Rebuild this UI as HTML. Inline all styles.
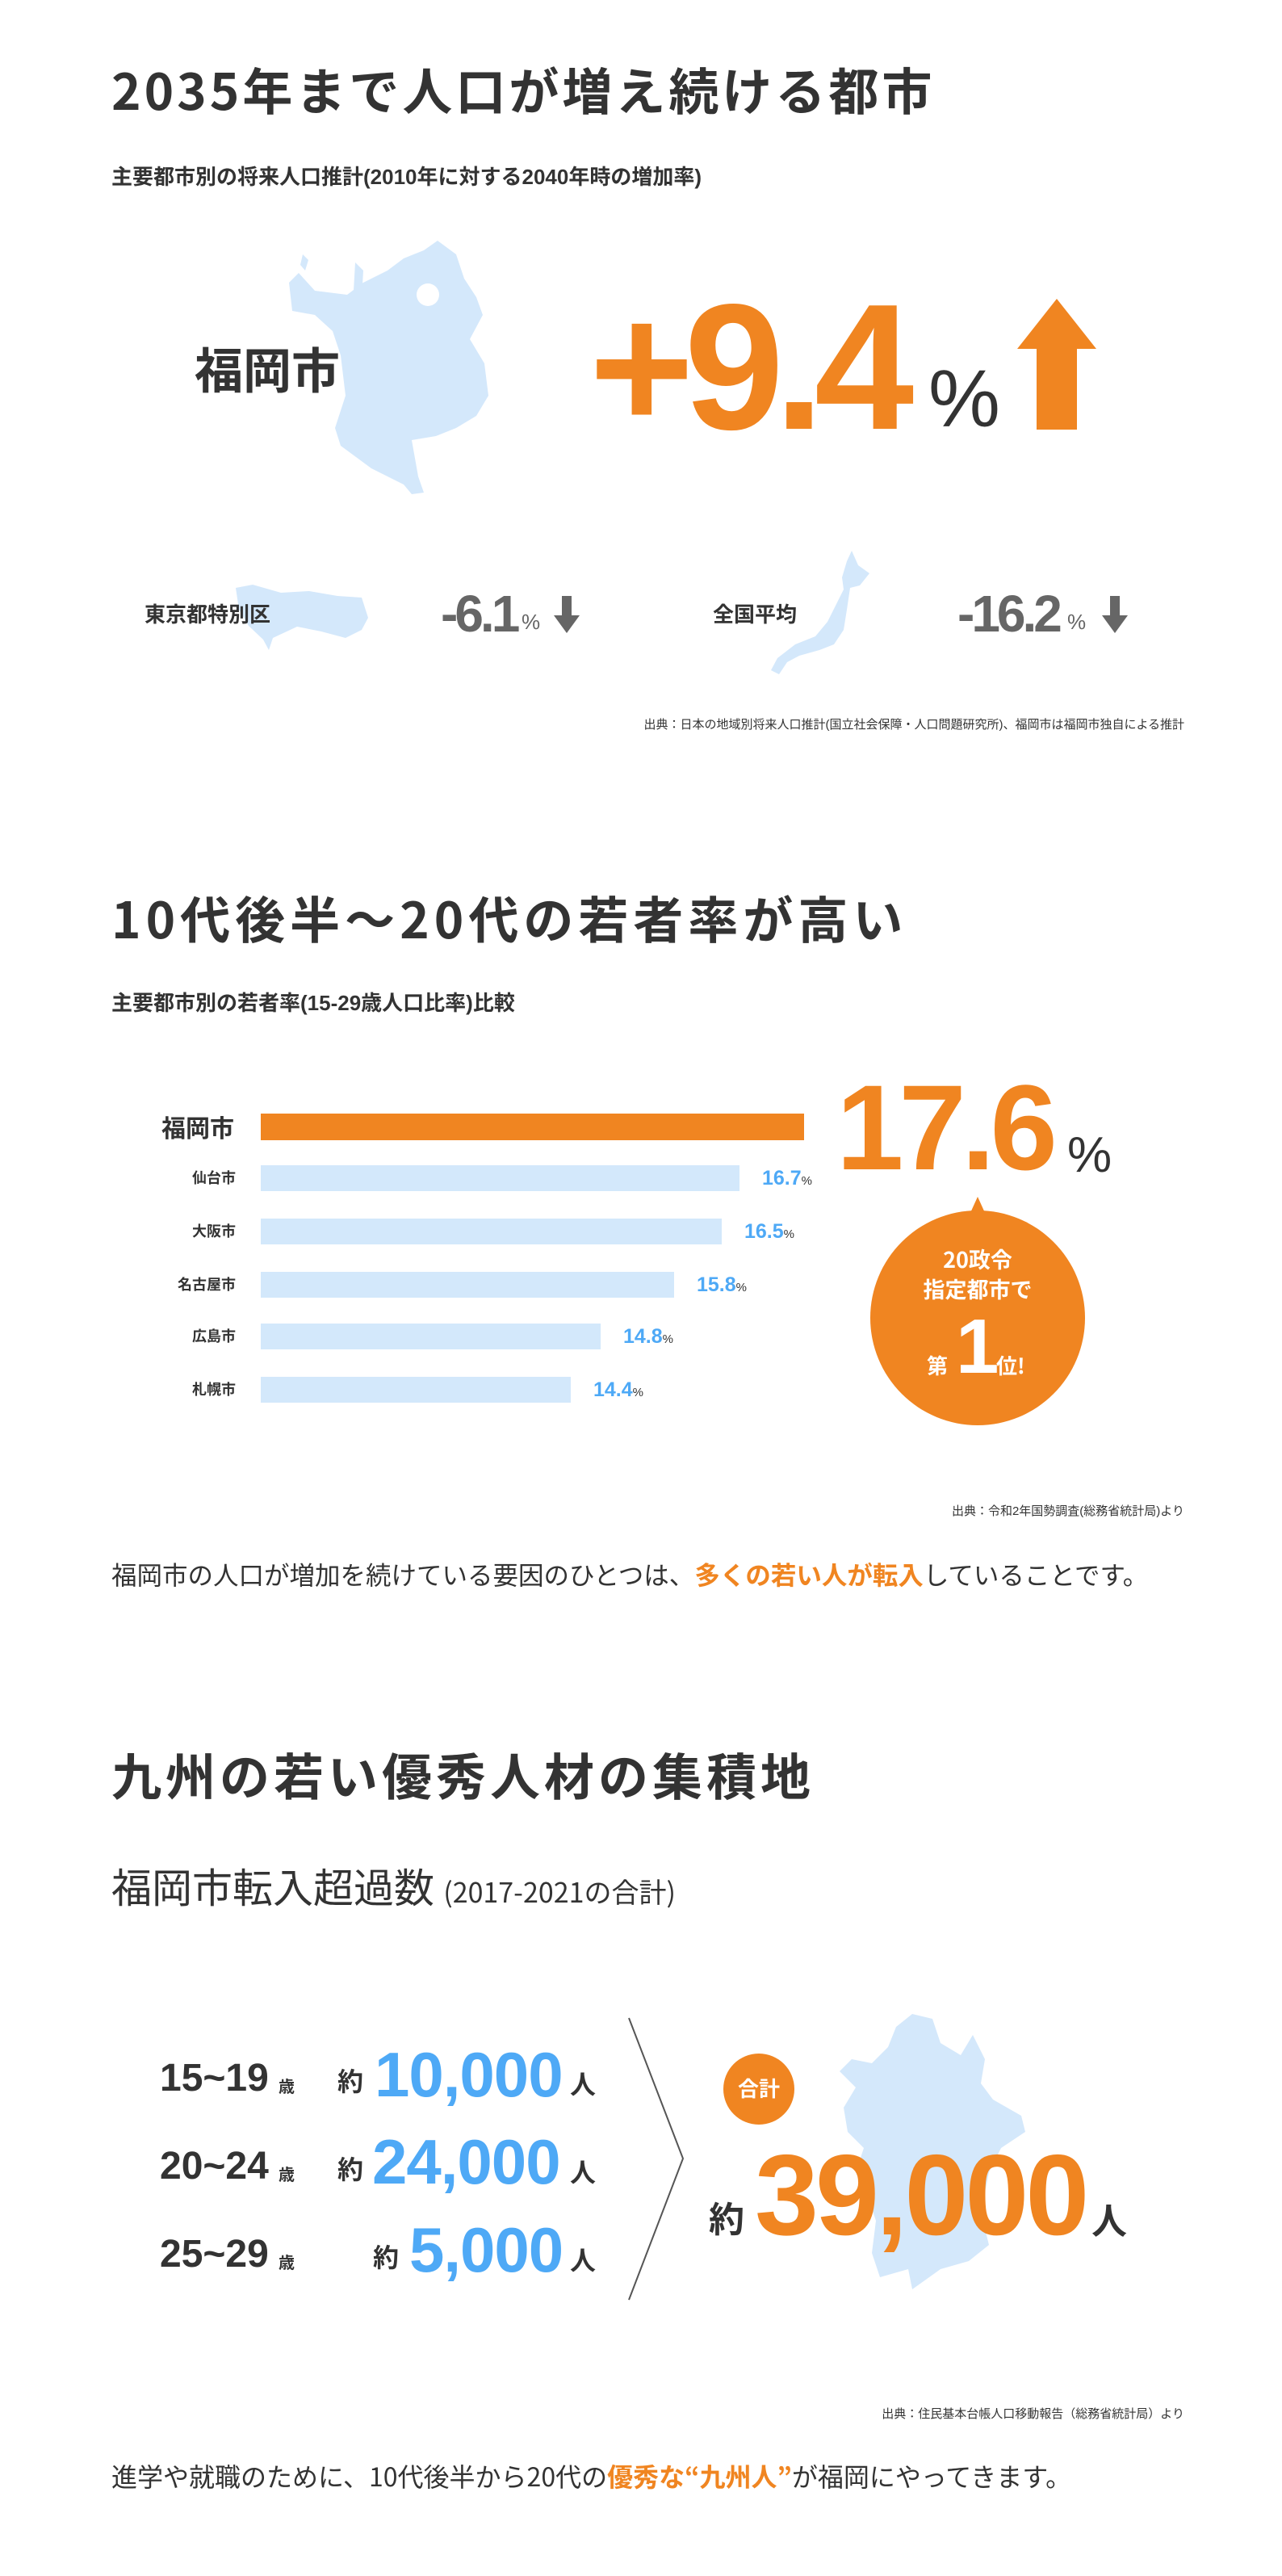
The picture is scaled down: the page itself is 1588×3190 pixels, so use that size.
<!DOCTYPE html>
<html><head><meta charset="utf-8"><style>
*{margin:0;padding:0}
body{width:1588px;height:3190px;background:#fff;position:relative;overflow:hidden;font-family:"Liberation Sans","Noto Sans CJK JP",sans-serif;color:#333}
.t{position:absolute;white-space:nowrap;line-height:1}
.h{font-family:"Noto Sans CJK JP",sans-serif;font-weight:bold;font-size:62px;color:#333}
.b{font-weight:bold}
.o{color:#f08521}
.bl{color:#4ea9f6}
.bar{position:absolute;height:32px;background:#d3e8fb;left:323px}
.src{position:absolute;white-space:nowrap;line-height:1;right:121px;font-size:15px}
</style></head><body>

<div class="t h" style="left:138px;top:78px;letter-spacing:4px">2035年まで人口が増え続ける都市</div>
<div class="t b" style="left:138px;top:206px;font-size:26px">主要都市別の将来人口推計(2010年に対する2040年時の増加率)</div>

<svg style="position:absolute;left:350px;top:290px" width="300" height="330" viewBox="0 0 300 330">
<path fill="#d4e8fb" d="M192 8 L215 25 L225 55 L240 78 L248 100 L232 130 L250 160 L255 200 L240 225 L215 240 L190 250 L160 255 L168 300 L175 320 L160 322 L150 310 L110 290 L72 262 L65 240 L78 200 L72 150 L62 120 L40 100 L12 95 L8 60 L20 48 L40 70 L80 75 L100 60 L130 45 L150 30 L175 20 Z"/>
<path fill="#d4e8fb" d="M90 35 L100 45 L98 80 L88 70 Z M25 25 L32 32 L28 45 L22 38 Z"/>
<circle cx="180" cy="75" r="14" fill="#fff"/>
</svg>
<div class="t b" style="left:241px;top:426px;font-size:60px;font-family:'Noto Sans CJK JP',sans-serif">福岡市</div>

<div class="t b o" style="left:730px;top:344px;font-size:222px;letter-spacing:-12px">+9.4</div>
<div class="t" style="left:1150px;top:444px;font-size:100px;color:#333">%</div>
<svg style="position:absolute;left:1254px;top:368px" width="110" height="166"><polygon fill="#f08521" points="6,64 55,2 104,64 80,64 80,164 30,164 30,64"/></svg>

<svg style="position:absolute;left:288px;top:720px" width="172" height="90"><path fill="#d4e8fb" d="M4 8 L25 4 L60 14 L95 12 L130 18 L160 20 L168 45 L160 60 L140 70 L110 62 L80 56 L50 70 L45 85 L38 72 L20 55 L8 35 Z"/></svg>
<div class="t b" style="left:179px;top:747px;font-size:26px;font-family:'Noto Sans CJK JP',sans-serif">東京都特別区</div>
<div class="t b" style="left:546px;top:728px;font-size:64px;color:#666;letter-spacing:-4px">-6.1</div>
<div class="t" style="left:646px;top:757px;font-size:26px;color:#666">%</div>
<svg style="position:absolute;left:686px;top:738px" width="32" height="46"><polygon fill="#666" points="10,0 22,0 22,24 32,24 16,46 0,24 10,24"/></svg>

<svg style="position:absolute;left:945px;top:680px" width="135" height="160"><path fill="#d4e8fb" d="M110 2 L118 20 L132 30 L120 45 L108 48 L104 75 L100 100 L88 118 L70 125 L45 132 L30 140 L20 155 L10 150 L18 135 L40 118 L65 108 L80 90 L90 70 L100 50 L98 35 L104 15 Z"/></svg>
<div class="t b" style="left:883px;top:747px;font-size:26px;font-family:'Noto Sans CJK JP',sans-serif">全国平均</div>
<div class="t b" style="left:1186px;top:728px;font-size:64px;color:#666;letter-spacing:-4px">-16.2</div>
<div class="t" style="left:1322px;top:757px;font-size:26px;color:#666">%</div>
<svg style="position:absolute;left:1365px;top:738px" width="32" height="46"><polygon fill="#666" points="10,0 22,0 22,24 32,24 16,46 0,24 10,24"/></svg>

<div class="src" style="top:890px">出典：日本の地域別将来人口推計(国立社会保障・人口問題研究所)、福岡市は福岡市独自による推計</div>

<div class="t h" style="left:138px;top:1104px;letter-spacing:6px">10代後半〜20代の若者率が高い</div>
<div class="t b" style="left:138px;top:1229px;font-size:26px">主要都市別の若者率(15-29歳人口比率)比較</div>

<div class="t b" style="left:200px;top:1380px;font-size:30px;font-family:'Noto Sans CJK JP',sans-serif">福岡市</div>
<div style="position:absolute;left:323px;top:1379px;width:673px;height:33px;background:#f08521"></div>
<div class="t b" style="left:238px;top:1450px;font-size:18px">仙台市</div><div class="bar" style="top:1443px;width:593px"></div><div class="t b bl" style="left:944px;top:1447px;font-size:25px">16.7<span style="font-size:15px;color:#333;font-weight:normal">%</span></div>
<div class="t b" style="left:238px;top:1516px;font-size:18px">大阪市</div><div class="bar" style="top:1509px;width:571px"></div><div class="t b bl" style="left:922px;top:1513px;font-size:25px">16.5<span style="font-size:15px;color:#333;font-weight:normal">%</span></div>
<div class="t b" style="left:220px;top:1582px;font-size:18px">名古屋市</div><div class="bar" style="top:1575px;width:512px"></div><div class="t b bl" style="left:863px;top:1579px;font-size:25px">15.8<span style="font-size:15px;color:#333;font-weight:normal">%</span></div>
<div class="t b" style="left:238px;top:1646px;font-size:18px">広島市</div><div class="bar" style="top:1639px;width:421px"></div><div class="t b bl" style="left:772px;top:1643px;font-size:25px">14.8<span style="font-size:15px;color:#333;font-weight:normal">%</span></div>
<div class="t b" style="left:238px;top:1712px;font-size:18px">札幌市</div><div class="bar" style="top:1705px;width:384px"></div><div class="t b bl" style="left:735px;top:1709px;font-size:25px">14.4<span style="font-size:15px;color:#333;font-weight:normal">%</span></div>

<div class="t b o" style="left:1036px;top:1321px;font-size:150px;letter-spacing:-6px">17.6</div>
<div class="t" style="left:1322px;top:1400px;font-size:62px;color:#333">%</div>
<svg style="position:absolute;left:1076px;top:1480px" width="270" height="290"><polygon fill="#f08521" points="135,2 125,24 145,24"/><circle cx="135" cy="152" r="133" fill="#f08521"/></svg>
<div class="t b" style="left:1078px;width:266px;text-align:center;top:1545px;font-size:27px;color:#fff;font-family:'Noto Sans CJK JP',sans-serif">20政令</div>
<div class="t b" style="left:1078px;width:266px;text-align:center;top:1582px;font-size:27px;color:#fff;font-family:'Noto Sans CJK JP',sans-serif">指定都市で</div>
<div class="t b" style="left:1148px;top:1678px;font-size:26px;color:#fff;font-family:'Noto Sans CJK JP',sans-serif">第</div>
<div class="t b" style="left:1184px;top:1620px;font-size:96px;color:#fff">1</div>
<div class="t b" style="left:1234px;top:1678px;font-size:26px;color:#fff;font-family:'Noto Sans CJK JP',sans-serif">位!</div>

<div class="src" style="top:1864px">出典：令和2年国勢調査(総務省統計局)より</div>
<div class="t" style="left:138px;top:1934px;font-size:31.5px;font-family:'Noto Sans CJK JP',sans-serif">福岡市の人口が増加を続けている要因のひとつは、<span class="o b">多くの若い人が転入</span>していることです。</div>

<div class="t h" style="left:138px;top:2165px;letter-spacing:5px">九州の若い優秀人材の集積地</div>
<div class="t" style="left:138px;top:2310px;font-size:50px;font-family:'Noto Sans CJK JP',sans-serif">福岡市転入超過数 <span style="font-size:34px">(2017-2021の合計)</span></div>

<svg style="position:absolute;left:1030px;top:2490px" width="270" height="360"><path fill="#d4e8fb" d="M100 4 L125 10 L135 40 L160 55 L175 30 L190 60 L185 90 L200 110 L235 130 L240 150 L210 170 L195 200 L185 250 L195 290 L170 310 L135 320 L100 345 L95 320 L60 330 L50 300 L55 260 L45 230 L30 200 L40 170 L20 150 L15 120 L30 95 L10 75 L25 60 L50 65 L70 45 L80 20 Z"/></svg>

<div class="t b" style="left:198px;top:2550px;font-size:48px">15~19</div><div class="t b" style="left:345px;top:2575px;font-size:20px">歳</div>
<div class="t b" style="left:418px;top:2562px;font-size:32px">約</div>
<div class="t b bl" style="left:464px;top:2530px;font-size:78px;letter-spacing:-1px">10,000</div>
<div class="t b" style="left:706px;top:2566px;font-size:32px">人</div>

<div class="t b" style="left:198px;top:2659px;font-size:48px">20~24</div><div class="t b" style="left:345px;top:2684px;font-size:20px">歳</div>
<div class="t b" style="left:418px;top:2671px;font-size:32px">約</div>
<div class="t b bl" style="left:461px;top:2638px;font-size:78px;letter-spacing:-1px">24,000</div>
<div class="t b" style="left:706px;top:2675px;font-size:32px">人</div>

<div class="t b" style="left:198px;top:2768px;font-size:48px">25~29</div><div class="t b" style="left:345px;top:2793px;font-size:20px">歳</div>
<div class="t b" style="left:462px;top:2780px;font-size:32px">約</div>
<div class="t b bl" style="left:507px;top:2747px;font-size:78px;letter-spacing:-1px">5,000</div>
<div class="t b" style="left:706px;top:2784px;font-size:32px">人</div>

<svg style="position:absolute;left:770px;top:2490px" width="90" height="370"><polyline fill="none" stroke="#555" stroke-width="2" points="9,9 76,183 9,358"/></svg>

<div style="position:absolute;left:896px;top:2543px;width:88px;height:88px;border-radius:50%;background:#f08521"></div>
<div class="t b" style="left:896px;width:88px;text-align:center;top:2573px;font-size:26px;color:#fff;font-family:'Noto Sans CJK JP',sans-serif">合計</div>
<div class="t b" style="left:878px;top:2728px;font-size:44px">約</div>
<div class="t b o" style="left:935px;top:2648px;font-size:142px;letter-spacing:-4px">39,000</div>
<div class="t b" style="left:1352px;top:2730px;font-size:44px">人</div>

<div class="src" style="top:2982px">出典：住民基本台帳人口移動報告（総務省統計局）より</div>
<div class="t" style="left:138px;top:3050px;font-size:32px;font-family:'Noto Sans CJK JP',sans-serif">進学や就職のために、10代後半から20代の<span class="o b">優秀な“九州人”</span>が福岡にやってきます。</div>
</body></html>
